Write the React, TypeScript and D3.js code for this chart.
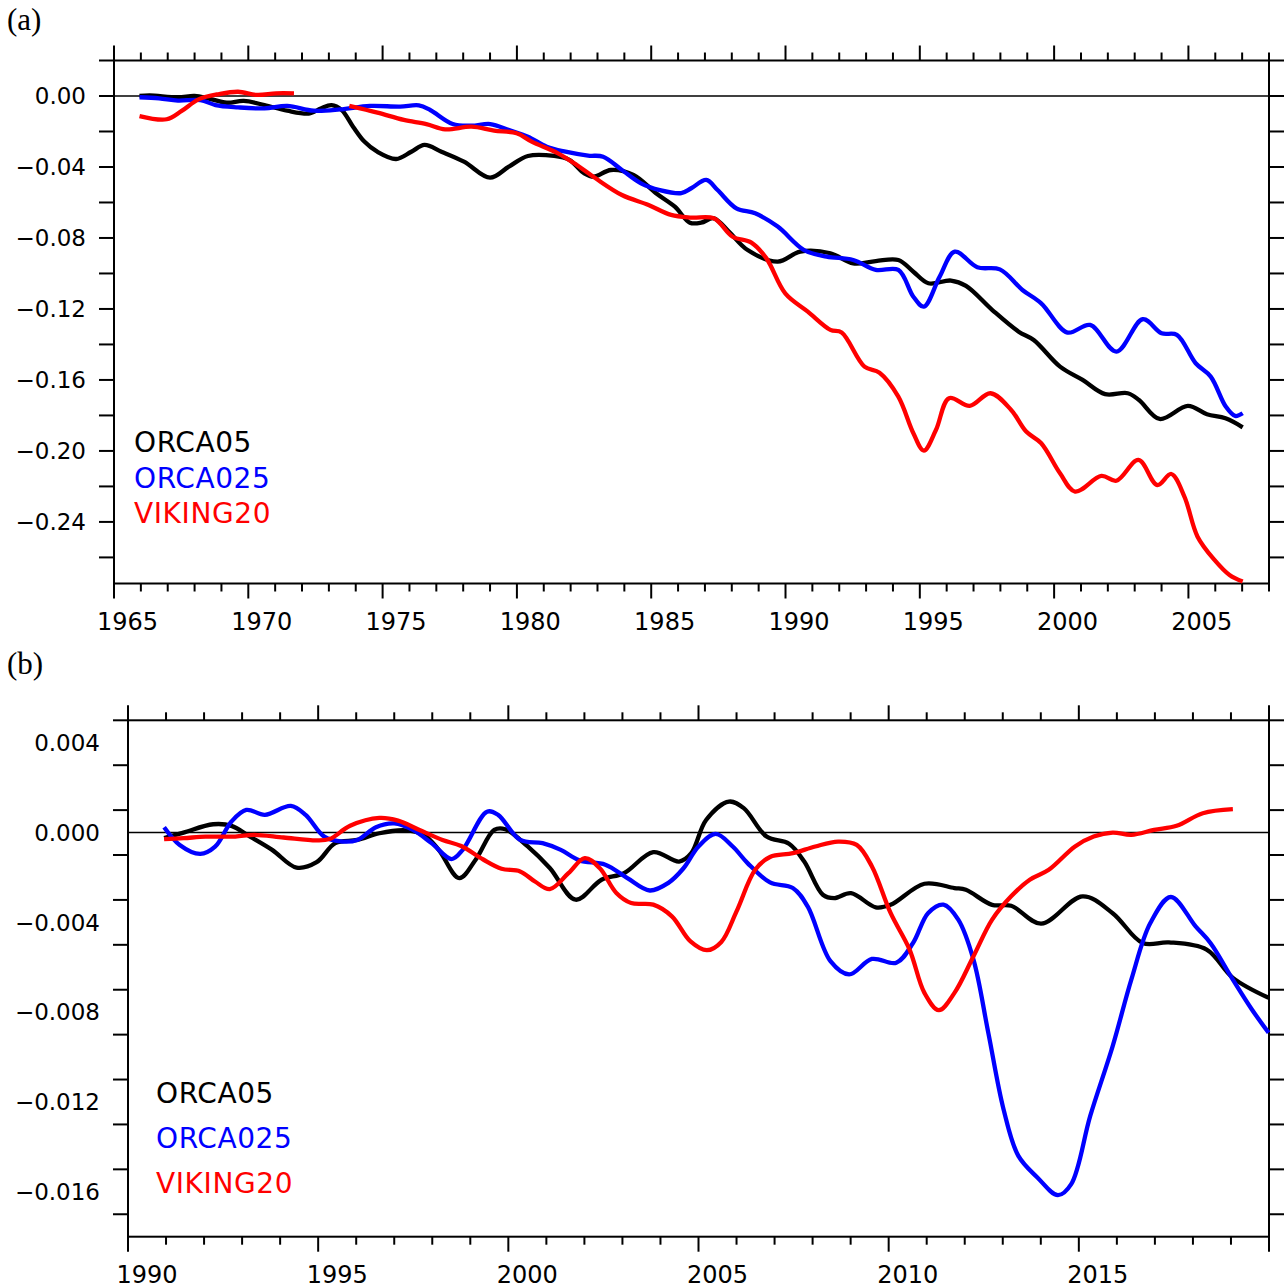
import React from "react";
import * as d3 from "d3";

// ---------- Panel (a) data: [year, value] ----------
const orca05A: [number, number][] = [
  [1965.95, 0.0], [1966.33, 0.0003], [1967.38, -0.0007], [1968.0, 0.0], [1968.5, -0.0013],
  [1969.2, -0.0038], [1969.83, -0.0028], [1970.6, -0.0051], [1971.45, -0.0083], [1972.29, -0.0098],
  [1972.7, -0.007], [1973.1, -0.0051], [1973.48, -0.0079], [1973.9, -0.0173], [1974.32, -0.0257],
  [1974.8, -0.0314], [1975.5, -0.0355], [1976.07, -0.0314], [1976.56, -0.0276], [1977.19, -0.0314],
  [1978.03, -0.037], [1979.0, -0.046], [1979.7, -0.0398], [1980.41, -0.0338], [1981.39, -0.0338],
  [1981.95, -0.036], [1982.51, -0.0436], [1982.86, -0.0455], [1983.5, -0.0417], [1984.34, -0.0445],
  [1985.18, -0.0548], [1985.88, -0.0624], [1986.44, -0.0714], [1986.86, -0.0714], [1987.33, -0.0689],
  [1987.89, -0.0764], [1988.59, -0.0868], [1989.71, -0.0933], [1990.55, -0.0877], [1991.67, -0.0886],
  [1992.52, -0.0943], [1993.36, -0.093], [1994.2, -0.0924], [1994.76, -0.099], [1995.32, -0.1055],
  [1996.16, -0.104], [1996.72, -0.107], [1997.7, -0.1206], [1998.68, -0.1328], [1999.24, -0.1375],
  [2000.22, -0.1525], [2001.06, -0.16], [2001.9, -0.168], [2002.74, -0.1675], [2003.16, -0.1713],
  [2003.93, -0.182], [2004.98, -0.1746], [2005.69, -0.1793], [2006.38, -0.1816], [2007.02, -0.1867],
];

const orca025A: [number, number][] = [
  [1965.95, -0.0007], [1966.68, -0.0013], [1967.38, -0.0026], [1968.22, -0.0023], [1968.78, -0.0051],
  [1969.62, -0.0064], [1970.6, -0.007], [1971.45, -0.0056], [1972.43, -0.0083], [1973.41, -0.0076],
  [1974.53, -0.0056], [1975.65, -0.006], [1976.35, -0.0053], [1976.77, -0.0079], [1977.61, -0.0158],
  [1978.31, -0.0167], [1979.01, -0.0158], [1979.71, -0.0192], [1980.41, -0.0229], [1981.11, -0.0286],
  [1981.81, -0.0314], [1982.65, -0.0336], [1983.21, -0.0342], [1983.91, -0.0417], [1984.62, -0.0492],
  [1985.32, -0.053], [1986.12, -0.0547], [1986.49, -0.052], [1987.05, -0.0473], [1987.47, -0.053],
  [1988.17, -0.0633], [1988.87, -0.0661], [1989.71, -0.0736], [1990.69, -0.0868], [1991.53, -0.0905],
  [1992.52, -0.0924], [1993.36, -0.098], [1994.2, -0.098], [1994.76, -0.1131], [1995.15, -0.1187],
  [1995.74, -0.1018], [1996.3, -0.0877], [1997.14, -0.0965], [1997.98, -0.0977], [1998.82, -0.1093],
  [1999.52, -0.1168], [2000.5, -0.1333], [2001.34, -0.129], [2002.32, -0.144], [2003.3, -0.1258],
  [2004.0, -0.1337], [2004.57, -0.1346], [2005.27, -0.1506], [2005.83, -0.1581], [2006.39, -0.175],
  [2006.74, -0.1803], [2007.02, -0.1788],
];

const viking20A1: [number, number][] = [
  [1965.95, -0.0113], [1966.96, -0.0131], [1967.52, -0.0084], [1968.15, -0.0019], [1968.92, 0.0011],
  [1969.62, 0.0024], [1970.32, 0.0006], [1971.03, 0.0015], [1971.7, 0.0015],
];

const viking20A2: [number, number][] = [
  [1973.76, -0.0056], [1974.81, -0.0094], [1975.79, -0.0135], [1976.63, -0.0158], [1977.33, -0.0188],
  [1978.31, -0.0173], [1979.15, -0.0195], [1979.99, -0.021], [1980.55, -0.0257], [1981.53, -0.0323],
  [1982.23, -0.0389], [1982.93, -0.0464], [1983.91, -0.0558], [1984.9, -0.0614], [1985.74, -0.067],
  [1986.5, -0.0685], [1987.33, -0.0689], [1988.03, -0.0793], [1988.73, -0.0826], [1989.29, -0.0915],
  [1989.99, -0.1112], [1990.83, -0.1215], [1991.67, -0.1318], [1992.09, -0.1333], [1992.94, -0.1525],
  [1993.5, -0.1559], [1994.2, -0.1694], [1994.76, -0.19], [1995.15, -0.1998], [1995.6, -0.1882],
  [1996.09, -0.1703], [1996.86, -0.1746], [1997.63, -0.1675], [1998.4, -0.1769], [1998.96, -0.1891],
  [1999.52, -0.1957], [2000.22, -0.2126], [2000.78, -0.2229], [2001.76, -0.2141], [2002.32, -0.2168],
  [2003.14, -0.2051], [2003.84, -0.2192], [2004.36, -0.213], [2004.85, -0.2257], [2005.34, -0.2483],
  [2005.97, -0.2614], [2006.53, -0.2699], [2007.02, -0.2736],
];

// ---------- Panel (b) data ----------
const orca05B: [number, number][] = [
  [1990.95, -0.00025], [1991.46, 0.0], [1992.24, 0.00037], [1992.72, 0.0003], [1993.21, -0.00018],
  [1993.79, -0.00077], [1994.43, -0.00156], [1994.96, -0.00132], [1995.45, -0.00047], [1996.03, -0.00033],
  [1996.61, -0.00003], [1997.3, 0.0001], [1997.78, -0.0001], [1998.17, -0.00077], [1998.71, -0.00203],
  [1999.14, -0.00121], [1999.63, 0.00012], [1999.92, 0.00015], [2000.51, -0.00062], [2001.09, -0.00158],
  [2001.77, -0.00299], [2002.45, -0.0021], [2003.04, -0.00181], [2003.81, -0.00087], [2004.49, -0.00129],
  [2004.81, -0.00092], [2005.2, 0.00056], [2005.8, 0.00138], [2006.19, 0.00109], [2006.79, -0.00018],
  [2007.38, -0.0005], [2007.78, -0.00129], [2008.27, -0.00277], [2008.57, -0.00292], [2009.01, -0.0027],
  [2009.66, -0.00333], [2010.05, -0.00322], [2010.94, -0.00228], [2011.73, -0.00247], [2012.03, -0.00255],
  [2012.72, -0.00322], [2013.22, -0.00326], [2014.01, -0.00406], [2015.1, -0.00284], [2015.89, -0.00359],
  [2016.68, -0.00492], [2017.37, -0.00489], [2018.36, -0.00521], [2019.05, -0.00647], [2019.99, -0.00736],
];

const orca025B: [number, number][] = [
  [1990.95, 0.00024], [1991.36, -0.00055], [1991.9, -0.00095], [1992.29, -0.00063], [1992.72, 0.00049],
  [1993.11, 0.00101], [1993.6, 0.00079], [1994.28, 0.00119], [1994.67, 0.00079], [1995.16, -0.00018],
  [1995.64, -0.0004], [1996.03, -0.00033], [1996.52, 0.00024], [1997.0, 0.00041], [1997.49, 0.00012],
  [1997.98, -0.00047], [1998.51, -0.00118], [1998.8, -0.00077], [1999.44, 0.00093], [1999.73, 0.00079],
  [2000.31, -0.00033], [2000.9, -0.00047], [2001.38, -0.00077], [2001.87, -0.00124], [2002.55, -0.00143],
  [2003.13, -0.00203], [2003.72, -0.00258], [2004.2, -0.00225], [2004.6, -0.0016], [2005.0, -0.00062],
  [2005.45, -0.00006], [2005.9, -0.00062], [2006.29, -0.00136], [2006.88, -0.00222], [2007.48, -0.00247],
  [2007.87, -0.00329], [2008.47, -0.00573], [2008.96, -0.00632], [2009.56, -0.00563], [2010.2, -0.0058],
  [2010.64, -0.00492], [2011.04, -0.00358], [2011.44, -0.00321], [2011.83, -0.00388], [2012.23, -0.00566],
  [2012.62, -0.00892], [2013.02, -0.01232], [2013.41, -0.0144], [2013.91, -0.01536], [2014.45, -0.01615],
  [2014.8, -0.01566], [2015.3, -0.01262], [2015.89, -0.00951], [2016.38, -0.00655], [2016.88, -0.00403],
  [2017.42, -0.00287], [2018.07, -0.00418], [2018.46, -0.00492], [2019.05, -0.00655], [2019.55, -0.00788],
  [2019.99, -0.00892],
];

const viking20B: [number, number][] = [
  [1990.95, -0.00029], [1991.46, -0.00025], [1992.04, -0.00018], [1992.82, -0.00018], [1993.31, -0.0001],
  [1994.09, -0.00022], [1994.96, -0.00035], [1995.3, -0.00029], [1995.84, 0.0003], [1996.61, 0.00065],
  [1997.1, 0.00053], [1997.68, 0.0001], [1998.27, -0.00033], [1998.76, -0.0006], [1999.34, -0.0012],
  [1999.82, -0.00161], [2000.31, -0.00173], [2000.7, -0.00218], [2001.09, -0.00252], [2001.58, -0.00181],
  [2002.01, -0.00114], [2002.4, -0.00158], [2002.84, -0.00269], [2003.23, -0.00314], [2003.81, -0.00321],
  [2004.3, -0.00373], [2004.79, -0.00485], [2005.22, -0.00524], [2005.6, -0.00487], [2006.0, -0.00351],
  [2006.49, -0.00166], [2006.88, -0.00109], [2007.48, -0.00092], [2008.07, -0.00062], [2008.67, -0.0004],
  [2009.16, -0.00055], [2009.56, -0.00151], [2010.05, -0.00358], [2010.55, -0.00521], [2010.94, -0.00714],
  [2011.32, -0.00791], [2011.73, -0.00714], [2012.23, -0.00551], [2012.72, -0.00388], [2013.22, -0.00284],
  [2013.71, -0.0021], [2014.21, -0.00166], [2014.9, -0.00062], [2015.39, -0.00018], [2015.89, 0.0],
  [2016.38, -0.0001], [2016.98, 0.00012], [2017.57, 0.0003], [2018.26, 0.00086], [2019.05, 0.00104],
];

const seriesNames = ["ORCA05", "ORCA025", "VIKING20"];
const seriesColors = ["#000000", "#0000ff", "#ff0000"];

const yLabelTicksA = [0, -0.04, -0.08, -0.12, -0.16, -0.2, -0.24];
const yLabelTicksB = [0.004, 0, -0.004, -0.008, -0.012, -0.016];

const FONT = "DejaVu Sans, sans-serif";

type PanelProps = {
  label: string;
  labelY: number;
  left: number; right: number; top: number; bottom: number;
  xDomain: [number, number];
  yDomain: [number, number];
  yStep: number;
  yLabels: number[];
  yDecimals: number;
  xLabelMax: number;
  series: [number, number][][][];
  legendX: number; legendY: number; legendDy: number;
};

function fmt(v: number, dec: number) {
  const s = Math.abs(v).toFixed(dec);
  return (v < -1e-12 ? "\u2212" : "") + s;
}

function Panel(p: PanelProps) {
  const x = d3.scaleLinear().domain(p.xDomain).range([p.left, p.right]);
  const y = d3.scaleLinear().domain(p.yDomain).range([p.bottom, p.top]);
  const line = d3
    .line<[number, number]>()
    .x((d) => x(d[0]))
    .y((d) => y(d[1]))
    .curve(d3.curveCatmullRom.alpha(0.5));

  const years = d3.range(p.xDomain[0], p.xDomain[1] + 0.001, 1);
  const yTicks: number[] = [];
  const nSteps = Math.floor((p.yDomain[1] - p.yDomain[0]) / p.yStep + 1e-6);
  for (let i = 0; i <= nSteps + 1; i++) {
    const v = +(p.yDomain[1] - i * p.yStep).toFixed(6);
    if (v >= p.yDomain[0] - 1e-9 && v <= p.yDomain[1] + 1e-9) yTicks.push(v);
  }
  const labelYears = years.filter((yr) => yr % 5 === 0 && yr <= p.xLabelMax);
  const tickLen = 15;
  const minorLen = 8;

  return (
    <g>
      <text x={7} y={p.labelY} fontFamily="Liberation Serif, serif" fontSize={31} fill="#000">
        {p.label}
      </text>
      <line x1={p.left} x2={p.right} y1={y(0)} y2={y(0)} stroke="#000" strokeWidth={1.6} />
      <rect x={p.left} y={p.top} width={p.right - p.left} height={p.bottom - p.top} fill="none" stroke="#000" strokeWidth={2} />
      {years.map((yr) => {
        const len = yr % 5 === 0 ? tickLen : minorLen;
        const xx = x(yr);
        return (
          <g key={"xt" + yr}>
            <line x1={xx} x2={xx} y1={p.top} y2={p.top - len} stroke="#000" strokeWidth={2} />
            <line x1={xx} x2={xx} y1={p.bottom} y2={p.bottom + len} stroke="#000" strokeWidth={2} />
          </g>
        );
      })}
      {labelYears.map((yr) => (
        <text key={"xl" + yr} x={x(yr + 0.5)} y={p.bottom + 46} textAnchor="middle" fontFamily={FONT} fontSize={24} fill="#000">
          {yr}
        </text>
      ))}
      {yTicks.map((v) => (
        <g key={"yt" + v}>
          <line x1={p.left - tickLen} x2={p.left} y1={y(v)} y2={y(v)} stroke="#000" strokeWidth={2} />
          <line x1={p.right} x2={p.right + tickLen} y1={y(v)} y2={y(v)} stroke="#000" strokeWidth={2} />
        </g>
      ))}
      {p.yLabels.map((v) => (
        <text key={"yl" + v} x={p.left - 28} y={y(v)} dy="0.36em" textAnchor="end" fontFamily={FONT} fontSize={23} fill="#000">
          {fmt(v, p.yDecimals)}
        </text>
      ))}
      {p.series.map((segs, i) =>
        segs.map((seg, j) => (
          <path key={"s" + i + "_" + j} d={line(seg) || ""} fill="none" stroke={seriesColors[i]} strokeWidth={4.3} strokeLinejoin="round" />
        ))
      )}
      {seriesNames.map((n, i) => (
        <text key={"lg" + n} x={p.legendX} y={p.legendY + i * p.legendDy} fontFamily={FONT} fontSize={28} fill={seriesColors[i]} letterSpacing={0.6}>
          {n}
        </text>
      ))}
    </g>
  );
}

export default function App() {
  return (
    <svg width={1288} height={1288} style={{ position: "absolute", left: 0, top: 0, background: "#fff" }}>
      <rect x={0} y={0} width={1288} height={1288} fill="#fff" />
      <Panel
        label="(a)"
        labelY={30}
        left={114} right={1269} top={60.5} bottom={583.5}
        xDomain={[1965, 2008]}
        yDomain={[-0.2747, 0.02]}
        yStep={0.02}
        yLabels={yLabelTicksA}
        yDecimals={2}
        xLabelMax={2005}
        series={[[orca05A], [orca025A], [viking20A1, viking20A2]]}
        legendX={134} legendY={452} legendDy={35.5}
      />
      <Panel
        label="(b)"
        labelY={674}
        left={128} right={1269} top={720.3} bottom={1236.7}
        xDomain={[1990, 2020]}
        yDomain={[-0.018, 0.005]}
        yStep={0.002}
        yLabels={yLabelTicksB}
        yDecimals={3}
        xLabelMax={2015}
        series={[[orca05B], [orca025B], [viking20B]]}
        legendX={156} legendY={1103} legendDy={45}
      />
    </svg>
  );
}
